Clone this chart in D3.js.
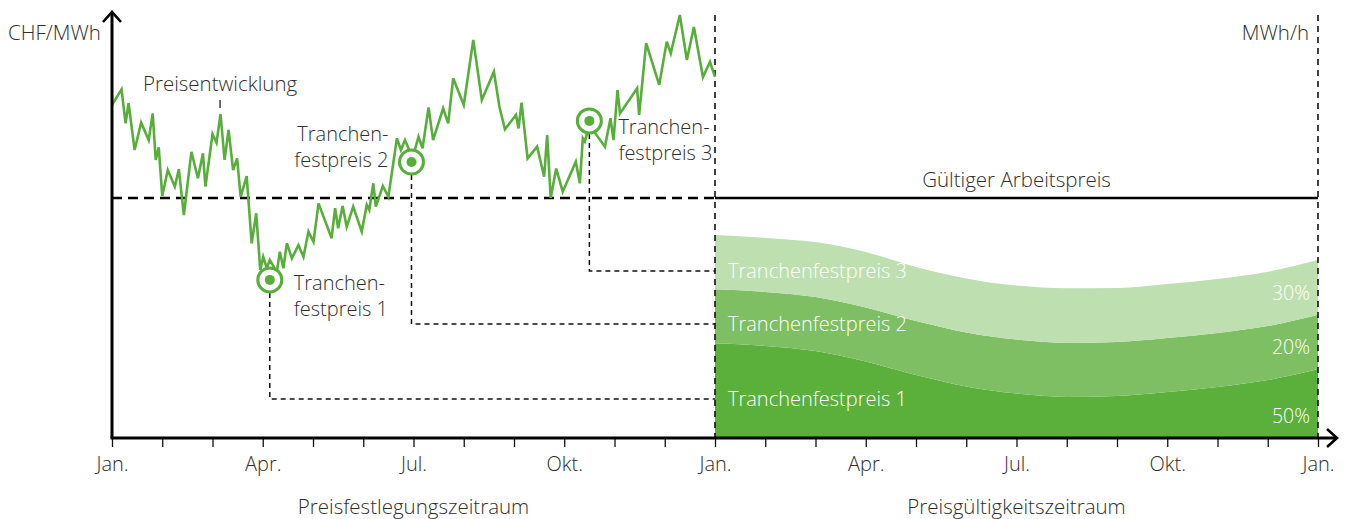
<!DOCTYPE html>
<html>
<head>
<meta charset="utf-8">
<script src="https://cdn.jsdelivr.net/npm/d3@7"></script>
<style>
    body { margin: 0; background: #fff; }
    svg text { font-family: "Open Sans", "DejaVu Sans", sans-serif; font-weight: 300; fill: #2e2e2e; }
    .band-label { fill: #fff; }
</style>
</head>
<body>
<div id="chart"></div>
<script>
// month index (0 = Jan. of fixing year, 24 = Jan. after delivery year)
const monthLabels = ["Jan.", "Apr.", "Jul.", "Okt.", "Jan.", "Apr.", "Jul.", "Okt.", "Jan."];
const labelMonths = [0, 3, 6, 9, 12, 15, 18, 21, 24];

// Preisentwicklung (CHF/MWh) over the fixing period
const priceMonths = [0, 0.19, 0.27, 0.33, 0.45, 0.58, 0.73, 0.81, 0.87, 0.93, 1.0, 1.11, 1.25, 1.33, 1.43, 1.58, 1.71, 1.81, 1.86, 2.0,
    2.08, 2.16, 2.24, 2.32, 2.41, 2.49, 2.56, 2.68, 2.78, 2.87, 2.95, 3.01, 3.08, 3.14, 3.28, 3.34, 3.41, 3.48, 3.58, 3.71,
    3.81, 3.91, 4.01, 4.11, 4.37, 4.44, 4.5, 4.59, 4.67, 4.8, 4.97, 5.07, 5.12, 5.2, 5.25, 5.39, 5.5, 5.67, 5.75, 5.83,
    5.9, 5.97, 6.1, 6.18, 6.3, 6.39, 6.59, 6.69, 6.79, 7.0, 7.19, 7.36, 7.6, 7.71, 7.82, 8.04, 8.09, 8.15, 8.27, 8.46,
    8.6, 8.66, 8.73, 8.84, 8.97, 9.23, 9.31, 9.37, 9.41, 9.5, 9.81, 9.92, 9.98, 10.06, 10.11, 10.45, 10.49, 10.63, 10.89, 11.04,
    11.12, 11.3, 11.44, 11.58, 11.76, 11.9, 12];
const priceValues = [111, 116.2, 104.9, 111.6, 96, 105.1, 99.3, 108.2, 92.7, 96.9, 80.7, 89.3, 83.8, 89.6, 74.3, 95.4, 86.6, 94.9, 83.8, 101.3,
    98.4, 108, 92.7, 102.7, 89.3, 93.2, 80.4, 87.3, 64.9, 74.9, 56, 60.4, 56.6, 59.3, 55.4, 62.1, 56.6, 64.9, 59.9, 64.3,
    60.4, 68.8, 65.4, 78.2, 66.6, 76.6, 69.9, 77.3, 70.4, 77.1, 68.8, 77.7, 76, 84.9, 77.1, 84, 80.4, 99.9, 96, 99.3,
    96.6, 92.7, 100.4, 96.6, 110.2, 99.3, 109.9, 104.9, 119.9, 111, 132.7, 112.7, 122.1, 110.4, 102.9, 107.7, 103.2, 111.8, 93.2, 97.1,
    87.1, 101, 80, 89.8, 82.1, 92.1, 84.9, 99.9, 98.8, 104.3, 97.1, 106.6, 99.3, 116, 108.2, 116.6, 107.7, 131.6, 117.7, 132.1,
    128.2, 141, 126, 137, 120.3, 125.4, 120.4];

// Gültiger Arbeitspreis (CHF/MWh)
const fixedPrice = 80;

// Tranchen: fixing month and price
const trancheMonths = [3.14, 5.96, 9.5];
const tranchePrices = [52.7, 92, 105.7];
const trancheNames = ["Tranchenfestpreis 1", "Tranchenfestpreis 2", "Tranchenfestpreis 3"];
const trancheShares = ["50%", "20%", "30%"];

// delivery period volumes per tranche (MWh/h), stacked
const deliveryMonths = [12, 13, 14, 15, 16, 17, 18, 19, 20, 21, 22, 23, 24];
const tranche1 = [31.6, 30.7, 29, 25.5, 21, 17.2, 14.8, 13.7, 14, 15.3, 17, 19.3, 23];
const tranche2 = [18, 18, 18, 18, 18, 18, 18, 18, 18, 18, 18, 18, 18.1];
const tranche3 = [18.1, 18, 18.3, 18.5, 18, 18, 18, 18.2, 18, 18, 18, 18.1, 18.2];

const w = 1347;
const h = 519;
const green = "#58ae3b";

const xScale = d3.scaleLinear().domain([0, 24]).range([112, 1318]);
const yScale = d3.scaleLinear().domain([0, 142]).range([438, 12]);
const yVol = d3.scaleLinear().domain([0, 142]).range([438, 12]);

const svg = d3.select("#chart").append("svg").attr("width", w).attr("height", h);

// stacked delivery areas
const stackRows = deliveryMonths.map((m, i) => ({ m: m, t1: tranche1[i], t2: tranche2[i], t3: tranche3[i] }));
const stacked = d3.stack().keys(["t1", "t2", "t3"])(stackRows);
const bandColors = ["#5bb03c", "#7dbf62", "#bedfb0"];
const area = d3.area()
    .x((d) => xScale(d.data.m))
    .y0((d) => yVol(d[0]))
    .y1((d) => yVol(d[1]))
    .curve(d3.curveMonotoneX);
svg.selectAll("path.band")
    .data(stacked)
    .enter()
    .append("path")
    .attr("class", "band")
    .attr("fill", (d, i) => bandColors[i])
    .attr("d", area);

// band labels
const labelLevels = [13, 38, 55.7];
svg.selectAll("text.band-label")
    .data(trancheNames)
    .enter()
    .append("text")
    .attr("class", "band-label")
    .attr("x", xScale(12) + 13)
    .attr("y", (d, i) => yVol(labelLevels[i]))
    .attr("dy", "0.35em")
    .attr("font-size", 20)
    .text((d) => d);

const last = stacked.map((s) => s[s.length - 1]);
svg.selectAll("text.share")
    .data(trancheShares)
    .enter()
    .append("text")
    .attr("class", "band-label")
    .attr("text-anchor", "end")
    .attr("x", xScale(24) - 8)
    .attr("y", (d, i) => yVol(last[i][0]) - 15)
    .attr("font-size", 19.5)
    .text((d) => d);

// dashed verticals at Jan. of delivery year and end
[12, 24].forEach((m) => {
    svg.append("line")
        .attr("x1", xScale(m)).attr("x2", xScale(m))
        .attr("y1", 15).attr("y2", yScale(0))
        .attr("stroke", "#111").attr("stroke-width", 1.6)
        .attr("stroke-dasharray", "6,5");
});

// leader lines from tranche markers to the delivery bands
trancheMonths.forEach((m, i) => {
    svg.append("path")
        .attr("d", `M${xScale(m)},${yScale(tranchePrices[i]) + 13}V${yVol(labelLevels[i])}H${xScale(12)}`)
        .attr("fill", "none")
        .attr("stroke", "#111").attr("stroke-width", 1.5)
        .attr("stroke-dasharray", "5,4");
});

// Gültiger Arbeitspreis
svg.append("line")
    .attr("x1", xScale(0)).attr("x2", xScale(12))
    .attr("y1", yScale(fixedPrice)).attr("y2", yScale(fixedPrice))
    .attr("stroke", "#000").attr("stroke-width", 2.6)
    .attr("stroke-dasharray", "10,6");
svg.append("line")
    .attr("x1", xScale(12)).attr("x2", xScale(24))
    .attr("y1", yScale(fixedPrice)).attr("y2", yScale(fixedPrice))
    .attr("stroke", "#000").attr("stroke-width", 2.6);
svg.append("text")
    .attr("x", xScale(18)).attr("y", yScale(fixedPrice) - 18)
    .attr("dy", "0.35em")
    .attr("text-anchor", "middle")
    .attr("font-size", 20.5)
    .text("Gültiger Arbeitspreis");

// price line
const line = d3.line()
    .x((d) => xScale(d[0]))
    .y((d) => yScale(d[1]));
svg.append("path")
    .datum(priceMonths.map((m, i) => [m, priceValues[i]]))
    .attr("fill", "none")
    .attr("stroke", green)
    .attr("stroke-width", 2.6)
    .attr("stroke-linejoin", "miter")
    .attr("d", line);

// tranche markers
trancheMonths.forEach((m, i) => {
    svg.append("circle")
        .attr("cx", xScale(m)).attr("cy", yScale(tranchePrices[i]))
        .attr("r", 12)
        .attr("fill", "#fff").attr("stroke", green).attr("stroke-width", 3);
    svg.append("circle")
        .attr("cx", xScale(m)).attr("cy", yScale(tranchePrices[i]))
        .attr("r", 5)
        .attr("fill", green);
});

// tranche annotations
const notes = [
    { i: 0, dx: 24, anchor: "start", dy: 3 },
    { i: 1, dx: -23, anchor: "end", dy: -28 },
    { i: 2, dx: 29, anchor: "start", dy: 6 }
];
notes.forEach((n) => {
    const t = svg.append("text")
        .attr("x", xScale(trancheMonths[n.i]) + n.dx)
        .attr("y", yScale(tranchePrices[n.i]) + n.dy)
        .attr("text-anchor", n.anchor)
        .attr("font-size", 20);
    t.append("tspan").attr("x", xScale(trancheMonths[n.i]) + n.dx).attr("dy", "0.35em").text("Tranchen-");
    t.append("tspan").attr("x", xScale(trancheMonths[n.i]) + n.dx).attr("dy", "1.3em").text("festpreis " + (n.i + 1));
});

svg.append("text")
    .attr("x", xScale(2.15)).attr("y", 84)
    .attr("dy", "0.35em")
    .attr("text-anchor", "middle")
    .attr("font-size", 20.5)
    .text("Preisentwicklung");
svg.append("line")
    .attr("x1", xScale(2.15)).attr("x2", xScale(2.15))
    .attr("y1", 100).attr("y2", 108)
    .attr("stroke", "#111").attr("stroke-width", 1.2);

// axes
const xAxis = d3.axisBottom(xScale)
    .tickValues(d3.range(0, 25))
    .tickSize(9)
    .tickFormat((d) => (labelMonths.indexOf(d) >= 0 ? monthLabels[labelMonths.indexOf(d)] : ""));
const gx = svg.append("g")
    .attr("id", "x-axis")
    .attr("transform", `translate(0,${yScale(0)})`)
    .call(xAxis);
gx.select(".domain").remove();
gx.selectAll(".tick line").attr("stroke", "#111").attr("stroke-width", 1.3);
gx.selectAll(".tick text")
    .attr("font-size", 20)
    .attr("font-family", null)
    .attr("y", 19);

svg.append("line")
    .attr("x1", xScale(0) - 1.5).attr("x2", 1337)
    .attr("y1", yScale(0)).attr("y2", yScale(0))
    .attr("stroke", "#000").attr("stroke-width", 3);
svg.append("path")
    .attr("d", `M1327,429L1337,${yScale(0)}L1327,447`)
    .attr("fill", "none").attr("stroke", "#000").attr("stroke-width", 2.6);

svg.append("line")
    .attr("x1", xScale(0)).attr("x2", xScale(0))
    .attr("y1", yScale(0)).attr("y2", 12)
    .attr("stroke", "#000").attr("stroke-width", 3);
svg.append("path")
    .attr("d", `M${xScale(0) - 9},22L${xScale(0)},12L${xScale(0) + 9},22`)
    .attr("fill", "none").attr("stroke", "#000").attr("stroke-width", 2.6);

svg.append("text")
    .attr("x", 8).attr("y", 33)
    .attr("dy", "0.35em")
    .attr("font-size", 20.5)
    .text("CHF/MWh");
svg.append("text")
    .attr("x", 1309).attr("y", 33)
    .attr("dy", "0.35em")
    .attr("text-anchor", "end")
    .attr("font-size", 20.5)
    .text("MWh/h");

// period captions
[["Preisfestlegungszeitraum", 6], ["Preisgültigkeitszeitraum", 18]].forEach((c) => {
    svg.append("text")
        .attr("x", xScale(c[1])).attr("y", 507)
        .attr("dy", "0.35em")
        .attr("text-anchor", "middle")
        .attr("font-size", 20.5)
        .text(c[0]);
});
</script>
</body>
</html>
